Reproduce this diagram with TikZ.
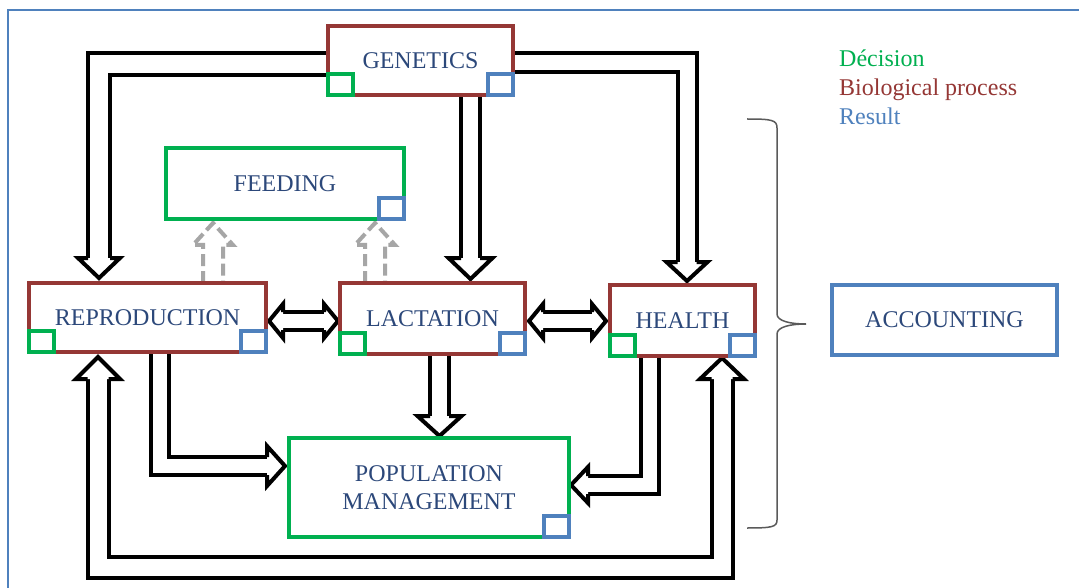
\documentclass[tikz,border=0pt]{standalone}
\usepackage{fontspec}
\setmainfont{Liberation Serif}
\definecolor{txtblue}{RGB}{44,72,122}
\definecolor{brn}{RGB}{149,55,53}
\definecolor{grn}{RGB}{0,176,80}
\definecolor{blu}{RGB}{79,129,189}
\definecolor{arrgray}{RGB}{166,166,166}
\definecolor{bracegray}{RGB}{90,90,90}
\newcommand\arrhead[5]{%
  \begin{scope}[shift={#1},rotate=#2]
    \fill[white] (0,-#4) -- (#5,0) -- (0,#4) -- cycle;
    \draw[line width=4pt,line join=miter,line cap=square] (0,-#3) -- (0,-#4) -- (#5,0) -- (0,#4) -- (0,#3);
  \end{scope}}
\tikzset{
  dbl/.style={draw=black, line width=4pt, double=white, line join=miter},
  dasharrow/.style={draw=arrgray, line width=4pt, dash pattern=on 12pt off 5pt, line join=miter},
  box/.style={draw, line width=4pt, fill=white, inner sep=0pt, outer sep=0pt, text=txtblue,
    font=\fontsize{24}{28}\selectfont, align=center},
  bio/.style={box, draw=brn},
  dec/.style={box, draw=grn},
  res/.style={box, draw=blu},
  sq/.style={draw, line width=4pt, inner sep=0pt, outer sep=0pt, minimum width=25pt, minimum height=21pt},
  sqg/.style={sq, draw=grn},
  sqb/.style={sq, draw=blu},
  legend/.style={anchor=base west, inner sep=0pt, font=\fontsize{24}{28}\selectfont}
}
\begin{document}
\begin{tikzpicture}[x=1pt,y=-1pt]
\useasboundingbox (0,0) rectangle (1079,588);
\fill[white] (0,0) rectangle (1079,588);
% frame
\draw[blu, line width=1.5pt] (8,588) -- (8,10) -- (1079,10);

% ---------- connectors (drawn before boxes) ----------
% GENETICS -> REPRODUCTION
\coordinate (a1s) at (335,64);
\coordinate (a1m) at (99,64);
\coordinate (a1e) at (99,258);
\draw[dbl, double distance=18pt] (a1s) -- (a1m) -- (a1e);
\arrhead{(a1e)}{-90}{11}{21}{20}
% GENETICS -> HEALTH
\coordinate (a2s) at (505,63);
\coordinate (a2m) at (687,63);
\coordinate (a2e) at (687,262);
\draw[dbl, double distance=15pt] (a2s) -- (a2m) -- (a2e);
\arrhead{(a2e)}{-90}{9.5}{20.5}{19}
% GENETICS -> LACTATION
\coordinate (a3s) at (470.5,90);
\coordinate (a3e) at (470.5,258);
\draw[dbl, double distance=15pt] (a3s) -- (a3e);
\arrhead{(a3e)}{-90}{9.5}{22}{21}
% LACTATION -> POPULATION
\coordinate (a4s) at (439.5,350);
\coordinate (a4e) at (439.5,416);
\draw[dbl, double distance=15pt] (a4s) -- (a4e);
\arrhead{(a4e)}{-90}{9.5}{22}{20}
% REPRODUCTION -> POPULATION
\coordinate (a5s) at (160,348);
\coordinate (a5m) at (160,466);
\coordinate (a5e) at (267,466);
\draw[dbl, double distance=14pt] (a5s) -- (a5m) -- (a5e);
\arrhead{(a5e)}{0}{9}{20}{18}
% HEALTH -> POPULATION
\coordinate (a6s) at (650,352);
\coordinate (a6m) at (650,485);
\coordinate (a6e) at (588,485);
\draw[dbl, double distance=14pt] (a6s) -- (a6m) -- (a6e);
\arrhead{(a6e)}{180}{9}{18}{17}
% bottom loop REPRODUCTION <-> HEALTH
\coordinate (a7s) at (98,379);
\coordinate (a7m) at (98,567);
\coordinate (a7n) at (722,567);
\coordinate (a7e) at (722,379);
\draw[dbl, double distance=17pt] (a7s) -- (a7m) -- (a7n) -- (a7e);
\arrhead{(a7s)}{90}{10.5}{22}{22}
\arrhead{(a7e)}{90}{10.5}{22}{21}
% REPRODUCTION <-> LACTATION
\coordinate (a8s) at (283,321);
\coordinate (a8e) at (324,321);
\draw[dbl, double distance=14pt] (a8s) -- (a8e);
\arrhead{(a8s)}{180}{9}{17}{14}
\arrhead{(a8e)}{0}{9}{17}{14}
% LACTATION <-> HEALTH
\coordinate (a9s) at (543,321);
\coordinate (a9e) at (592,321);
\draw[dbl, double distance=14pt] (a9s) -- (a9e);
\arrhead{(a9s)}{180}{9}{17}{14}
\arrhead{(a9e)}{0}{9}{17}{14}
% dashed arrows towards FEEDING
\draw[dasharrow] (203,283) -- (203,245) -- (193,245) -- (213,223) -- (233,245) -- (223,245) -- (223,283);
\draw[dasharrow] (365,283) -- (365,245) -- (355,245) -- (375,223) -- (395,245) -- (385,245) -- (385,283);

% ---------- boxes ----------
\node[bio, minimum width=185pt, minimum height=69pt] (gen) at (420.5,60.5) {GENETICS};
\node[dec, minimum width=238pt, minimum height=71pt] (feed) at (285,183.5) {FEEDING};
\node[bio, minimum width=237pt, minimum height=69pt] (repro) at (147.5,317.5) {REPRODUCTION};
\node[bio, minimum width=185pt, minimum height=71pt] (lact) at (432.5,318.5) {LACTATION};
\node[bio, minimum width=145pt, minimum height=71pt] (health) at (682.5,320.5) {HEALTH};
\node[dec, minimum width=280pt, minimum height=99pt] (pop) at (429,487.5) {POPULATION\\MANAGEMENT};
\node[res, minimum width=225pt, minimum height=70pt] (acc) at (944.5,320) {ACCOUNTING};

% corner squares
\node[sqg, anchor=south west] (genG) at (gen.south west) {};
\node[sqb, anchor=south east] (genB) at (gen.south east) {};
\node[sqb, anchor=south east] (feedB) at (feed.south east) {};
\node[sqg, anchor=south west] (reproG) at (repro.south west) {};
\node[sqb, anchor=south east] (reproB) at (repro.south east) {};
\node[sqg, anchor=south west] (lactG) at (lact.south west) {};
\node[sqb, anchor=south east] (lactB) at (lact.south east) {};
\node[sqg, anchor=south west] (healthG) at (health.south west) {};
\node[sqb, anchor=south east] (healthB) at (health.south east) {};
\node[sqb, anchor=south east] (popB) at (pop.south east) {};

% brace
\draw[bracegray, line width=1.5pt] (747,119) .. controls (772,119) and (777,120) .. (777,128)
  -- (777,314) .. controls (777,321) and (790,324) .. (806,324)
  .. controls (790,324) and (777,327) .. (777,334)
  -- (777,520) .. controls (777,527) and (772,528) .. (747,528);

% legend
\node[legend, text=grn] (legD) at (839,67) {Décision};
\node[legend, text=brn] (legB) at (839,96) {Biological process};
\node[legend, text=blu] (legR) at (839,125) {Result};
\end{tikzpicture}
\end{document}
